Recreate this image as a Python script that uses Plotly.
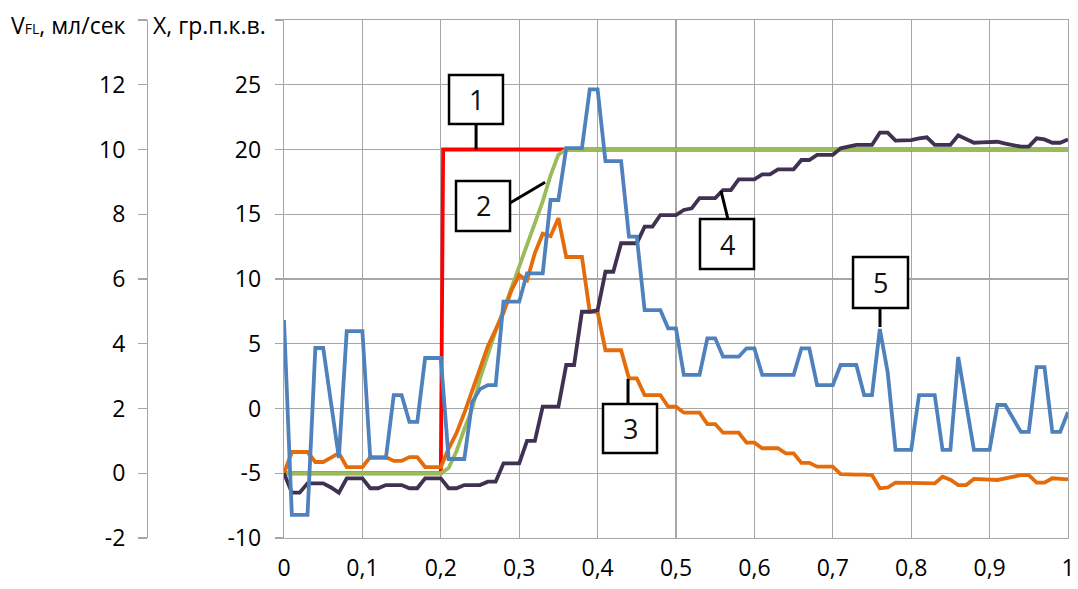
import plotly.graph_objects as go

# ---------------- data ----------------
t = [i / 100 for i in range(101)]

# 1 - red step input
red_t = [0.0, 0.2, 0.203, 1.0]
red_x = [-5, -5, 20, 20]

# 2 - green
green_x = [-5, -5, -5, -5, -5, -5, -5, -5, -5, -5,
           -5, -5, -5, -5, -5, -5, -5, -5, -5, -5,
           -5, -4.6, -3.3, -1.6, 0.0, 2.3, 4.2, 6.0, 7.6, 9.3,
           11.0, 12.8, 14.4, 16.0, 18.0, 19.6, 20, 20, 20, 20,
           20, 20, 20, 20, 20, 20, 20, 20, 20, 20,
           20, 20, 20, 20, 20, 20, 20, 20, 20, 20,
           20, 20, 20, 20, 20, 20, 20, 20, 20, 20,
           20, 20, 20, 20, 20, 20, 20, 20, 20, 20,
           20, 20, 20, 20, 20, 20, 20, 20, 20, 20,
           20, 20, 20, 20, 20, 20, 20, 20, 20, 20,
           20]

# 3 - orange
orange_x = [-5, -3.36, -3.36, -3.36, -4.13, -4.13, -3.8, -3.44, -4.52, -4.52,
            -4.52, -3.75, -3.75, -3.75, -4.05, -4.05, -3.75, -3.75, -4.52, -4.52,
            -4.52, -3.1, -1.9, -0.35, 1.4, 3.2, 4.8, 6.1, 7.4, 9.1,
            10.3, 9.9, 12.0, 13.5, 13.3, 14.7, 11.7, 11.7, 11.7, 7.47,
            7.47, 4.5, 4.5, 4.5, 2.33, 2.33, 1.04, 1.04, 1.04, 0.14,
            0.14, -0.32, -0.32, -0.32, -1.2, -1.2, -1.87, -1.87, -1.87, -2.64,
            -2.64, -3.07, -3.07, -3.07, -3.46, -3.46, -4.2, -4.2, -4.49, -4.49,
            -4.49, -5.06, -5.1, -5.1, -5.1, -5.14, -6.16, -6.1, -5.73, -5.73,
            -5.73, -5.78, -5.78, -5.78, -5.27, -5.5, -5.91, -5.91, -5.44, -5.48,
            -5.5, -5.52, -5.4, -5.25, -5.14, -5.14, -5.73, -5.73, -5.39, -5.43,
            -5.47]

# 4 - purple
purple_x = [-5, -6.5, -6.5, -5.78, -5.78, -5.78, -6.1, -6.5, -5.39, -5.39,
            -5.39, -6.16, -6.16, -5.91, -5.91, -5.91, -6.16, -6.16, -5.39, -5.39,
            -5.39, -6.16, -6.16, -5.91, -5.91, -5.91, -5.65, -5.65, -4.23, -4.23,
            -4.23, -2.5, -2.5, 0.14, 0.14, 0.14, 3.36, 3.36, 7.47, 7.47,
            7.6, 10.56, 10.56, 12.76, 12.76, 12.76, 14.04, 14.04, 14.94, 14.94,
            14.94, 15.33, 15.46, 16.25, 16.25, 16.25, 16.87, 16.87, 17.7, 17.7,
            17.7, 18.08, 18.08, 18.47, 18.47, 18.47, 19.19, 19.19, 19.58, 19.58,
            19.58, 20.09, 20.2, 20.35, 20.35, 20.35, 21.3, 21.3, 20.68, 20.7,
            20.73, 20.85, 20.94, 20.35, 20.35, 20.35, 21.1, 20.8, 20.52, 20.55,
            20.57, 20.6, 20.45, 20.3, 20.22, 20.22, 20.86, 20.78, 20.52, 20.52,
            20.78]

# 5 - blue
blue_x = [6.83, -8.22, -8.22, -8.22, 4.67, 4.67, 0.42, -3.82, 5.98, 5.98,
          5.98, -3.82, -3.82, -3.82, 1.04, 1.04, -1.04, -1.04, 3.9, 3.9,
          3.9, -3.9, -3.9, -3.9, 0.5, 1.5, 1.81, 1.81, 8.25, 8.25,
          8.25, 10.44, 10.44, 10.44, 16.1, 16.1, 20.1, 20.1, 20.1, 24.65,
          24.65, 19.1, 19.1, 19.1, 13.27, 13.27, 7.6, 7.6, 7.6, 6.19,
          6.19, 2.59, 2.59, 2.59, 5.42, 5.42, 4.0, 4.0, 4.0, 4.65,
          4.65, 2.59, 2.59, 2.59, 2.59, 2.59, 4.65, 4.65, 1.81, 1.81,
          1.81, 3.36, 3.36, 3.36, 1.04, 1.04, 6.14, 2.8, -3.2, -3.2,
          -3.2, 1.04, 1.04, 1.04, -3.2, -3.2, 3.98, 0.4, -3.2, -3.2,
          -3.2, 0.27, 0.27, -0.77, -1.81, -1.81, 3.2, 3.2, -1.81, -1.81,
          -0.27]

# axis ticks
x_ticks = [0, 0.1, 0.2, 0.3, 0.4, 0.5, 0.6, 0.7, 0.8, 0.9, 1.0]
X_ticks = [-10, -5, 0, 5, 10, 15, 20, 25, 30]
X_labels = ["-10", "-5", "0", "5", "10", "15", "20", "25", ""]
V_ticks = [-2, 0, 2, 4, 6, 8, 10, 12, 14]
V_labels = ["-2", "0", "2", "4", "6", "8", "10", "12", ""]

# callouts: label, box (x0, x1, y0, y1), leader (xa, ya, xb, yb)
callouts = [
    ("1", (0.2105, 0.2793, 21.97, 25.75), (0.245, 21.97, 0.245, 20.0)),
    ("2", (0.2194, 0.2883, 13.71, 17.57), (0.2883, 15.87, 0.333, 17.47)),
    ("3", (0.4069, 0.4758, -3.44, 0.35), (0.4388, 0.35, 0.4388, 2.28)),
    ("4", (0.5306, 0.5995, 10.77, 14.63), (0.5663, 14.63, 0.5574, 16.8)),
    ("5", (0.7258, 0.7959, 7.76, 11.70), (0.7602, 7.76, 0.7602, 6.29)),
]

# ---------------- figure ----------------
FONT = "Open Sans"
FS = 23
GRID = "#A6A6A6"
LW = 3.8

fig = go.Figure()
fig.add_trace(go.Scatter(x=red_t, y=red_x, mode="lines",
                         line=dict(color="#FF0000", width=LW)))
fig.add_trace(go.Scatter(x=t, y=green_x, mode="lines",
                         line=dict(color="#9BBB59", width=LW)))
fig.add_trace(go.Scatter(x=t, y=orange_x, mode="lines",
                         line=dict(color="#E46C0A", width=LW)))
fig.add_trace(go.Scatter(x=t, y=purple_x, mode="lines",
                         line=dict(color="#403152", width=LW)))
fig.add_trace(go.Scatter(x=t, y=blue_x, mode="lines",
                         line=dict(color="#4F81BD", width=LW)))
# carrier for the outer V axis
fig.add_trace(go.Scatter(x=[None], y=[None], yaxis="y2", mode="lines",
                         showlegend=False))

shapes = []
annotations = []
for label, (x0, x1, y0, y1), (xa, ya, xb, yb) in callouts:
    shapes.append(dict(type="line", xref="x", yref="y", x0=xa, y0=ya, x1=xb, y1=yb,
                       line=dict(color="black", width=3), layer="above"))
    shapes.append(dict(type="rect", xref="x", yref="y", x0=x0, x1=x1, y0=y0, y1=y1,
                       fillcolor="white", line=dict(color="black", width=2.5),
                       layer="above"))
    annotations.append(dict(x=(x0 + x1) / 2, y=(y0 + y1) / 2, xref="x", yref="y",
                            text=label, showarrow=False,
                            font=dict(family=FONT, size=27, color="#111111")))

W, H = 1078, 589
ML, MR, MT, MB = 10, 10, 20, 51
PW = W - ML - MR
dom0 = (284 - ML) / PW
pos2 = (147 - ML) / PW

annotations.append(dict(xref="paper", yref="paper", x=(268 - ML) / PW, y=1,
                        xanchor="right", yanchor="middle", yshift=-5,
                        text="X, гр.п.к.в.", showarrow=False,
                        font=dict(family=FONT, size=FS, color="black")))
annotations.append(dict(xref="paper", yref="paper", x=(128 - ML) / PW, y=1,
                        xanchor="right", yanchor="middle", yshift=-5,
                        text='V<span style="font-size:14px">FL</span>, мл/сек',
                        showarrow=False,
                        font=dict(family=FONT, size=FS, color="black")))

fig.update_layout(
    width=W, height=H,
    margin=dict(l=ML, r=MR, t=MT, b=MB, autoexpand=False),
    paper_bgcolor="white", plot_bgcolor="white",
    showlegend=False, hovermode=False,
    separators=", ",
    font=dict(family=FONT, size=FS, color="black"),
    xaxis=dict(domain=[dom0, 1], range=[0, 1], tickvals=x_ticks,
               showgrid=True, gridcolor=GRID, gridwidth=1.3, automargin=False,
               zeroline=False, showline=True, linecolor=GRID, linewidth=1.3,
               mirror=True, ticks="", ticklabelstandoff=9,
               tickfont=dict(family=FONT, size=FS, color="black")),
    yaxis=dict(range=[-10, 30], tickvals=X_ticks, ticktext=X_labels,
               showgrid=True, gridcolor=GRID, gridwidth=1.3, automargin=False,
               zeroline=False, showline=True, linecolor=GRID, linewidth=1.3,
               mirror=True, ticks="outside", ticklen=8, tickcolor=GRID,
               tickwidth=1.3, ticklabelstandoff=9,
               tickfont=dict(family=FONT, size=FS, color="black")),
    yaxis2=dict(range=[-2, 14], tickvals=V_ticks, ticktext=V_labels,
                overlaying="y", anchor="free", position=pos2, side="left",
                showgrid=False, zeroline=False, showline=True, automargin=False,
                linecolor=GRID, linewidth=1.3, ticks="outside", ticklen=9,
                tickcolor=GRID, tickwidth=1.3, ticklabelstandoff=8,
                tickfont=dict(family=FONT, size=FS, color="black")),
    shapes=shapes,
    annotations=annotations,
)

fig.write_html("out.html",
               config={"displayModeBar": False, "staticPlot": True},
               post_script="document.body.style.margin='0';"
                           "document.body.style.overflow='hidden';")
